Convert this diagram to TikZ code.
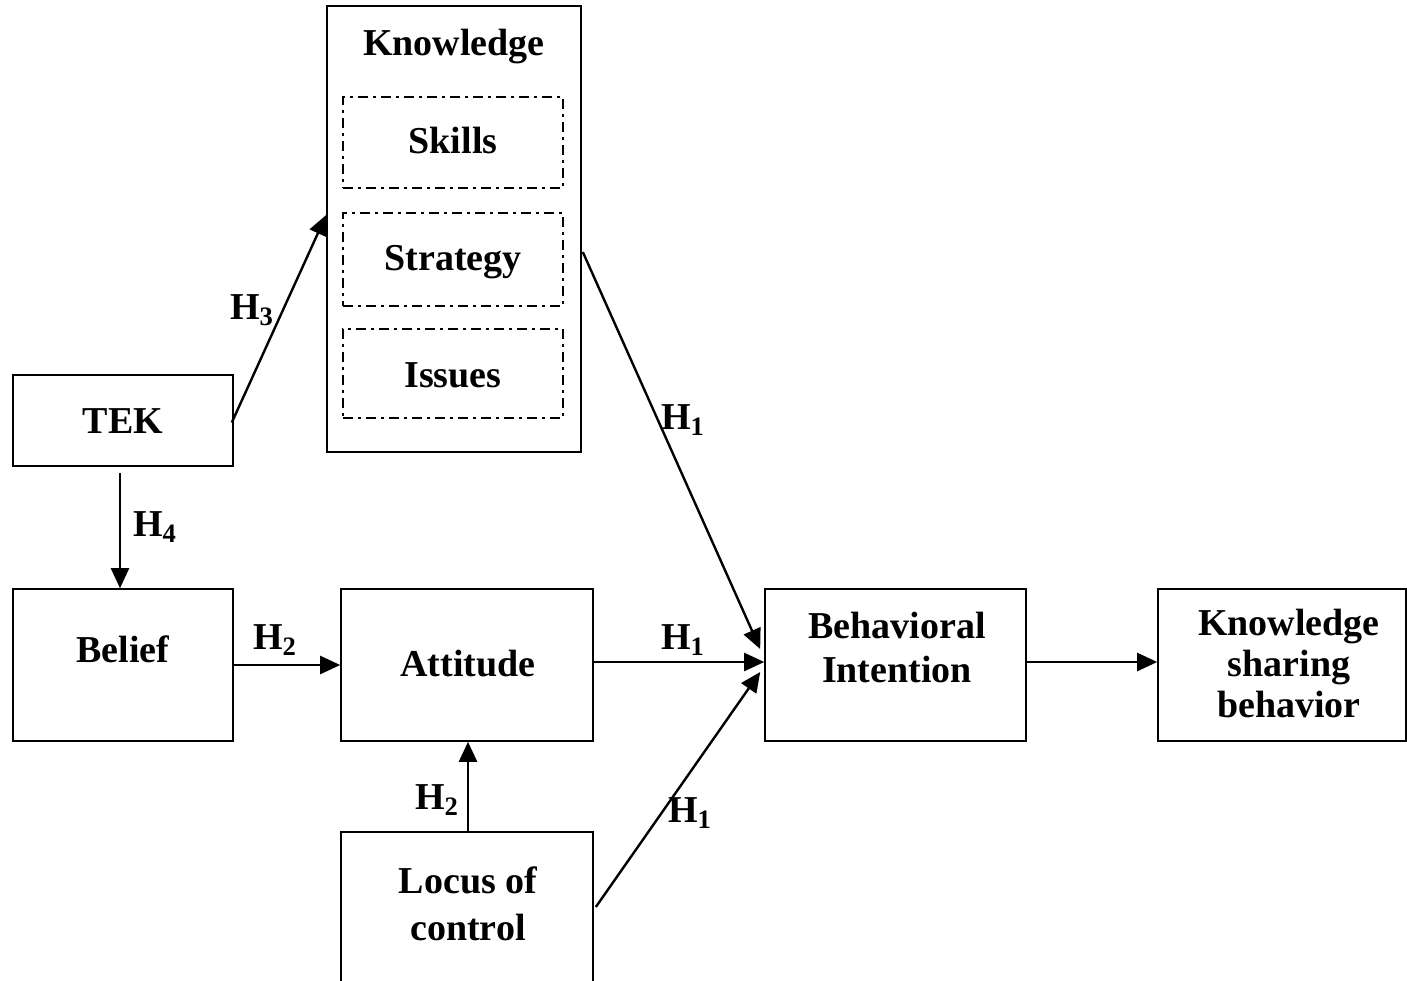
\documentclass[tikz,border=0pt]{standalone}
\usepackage{fontspec}
\setmainfont{Liberation Serif}
\usetikzlibrary{arrows.meta}
\begin{document}
\begin{tikzpicture}[x=0.5pt,y=-0.5pt,
  box/.style={draw,line width=0.8pt,inner sep=0pt,minimum width=#1},
  dbox/.style={draw,line width=0.75pt,inner sep=0pt,dash pattern=on 5pt off 2.5pt on 1.5pt off 2.5pt},
  txt/.style={inner sep=0pt,anchor=base,font=\fontsize{19}{22}\selectfont\bfseries,align=center},
  hl/.style={inner sep=0pt,font=\fontsize{19}{22}\selectfont\bfseries},
  arr/.style={line width=1.2pt,-{Triangle[length=10pt,width=9pt]}},
  ln/.style={line width=1.2pt}]
\useasboundingbox (0,0) rectangle (1407,980);
\clip (0,0) rectangle (1407,980);
% boxes
\node[box, minimum width=127pt, minimum height=223pt] (know) at (454,229) {};
\node[dbox, minimum width=110pt, minimum height=45.5pt] (skills) at (453,142.5) {};
\node[dbox, minimum width=110pt, minimum height=46.5pt] (strat) at (453,259.5) {};
\node[dbox, minimum width=110pt, minimum height=44.5pt] (issues) at (453,373.5) {};
\node[box, minimum width=110pt, minimum height=45.5pt] (tek) at (123,420.5) {};
\node[box, minimum width=110pt, minimum height=76pt] (belief) at (123,665) {};
\node[box, minimum width=126pt, minimum height=76pt] (att) at (467,665) {};
\node[box, minimum width=126pt, minimum height=88pt] (loc) at (467,920) {};
\node[box, minimum width=130.5pt, minimum height=76pt] (bi) at (895.5,665) {};
\node[box, minimum width=124pt, minimum height=76pt] (ksb) at (1282,665) {};
% texts
\node[txt] (tknow) at (454,55) {Knowledge};
\node[txt] (tskills) at (453,153) {Skills};
\node[txt] (tstrat) at (453,270) {Strategy};
\node[txt] (tissues) at (453,387) {Issues};
\node[txt] (ttek) at (123,433) {TEK};
\node[txt] (tbelief) at (123,662) {Belief};
\node[txt] (tatt) at (468,676) {Attitude};
\node[txt] (tbi) at (897,682) {Behavioral\\Intention};
\node[txt,font=\fontsize{19}{20.5}\selectfont\bfseries] (tksb) at (1289,717) {Knowledge\\sharing\\behavior};
\node[txt,font=\fontsize{19}{23.5}\selectfont\bfseries] (tloc) at (468,940) {Locus of\\control};
% connectors
\draw[arr] ([xshift=-1pt,yshift=-1pt]tek.east) -- ([yshift=7pt]know.west);
\draw[arr] ([xshift=-1.5pt,yshift=-3pt]tek.south) -- ([xshift=-1.5pt]belief.north);
\draw[arr] ([xshift=-1pt]belief.east) -- (att.west);
\draw[arr] ([yshift=1.5pt]att.east) -- ([yshift=1.5pt]bi.west);
\draw[arr] ([xshift=0.5pt,yshift=-11.5pt]know.east) -- ([xshift=-2pt,yshift=8pt]bi.west);
\draw[arr] ([xshift=1pt,yshift=6.5pt]loc.east) -- ([xshift=-2pt,yshift=-3.5pt]bi.west);
\draw[arr] ([xshift=0.5pt]loc.north) -- ([xshift=0.5pt]att.south);
\draw[arr] ([yshift=1.5pt]bi.east) -- ([yshift=1.5pt]ksb.west);
% labels
\node[hl] (h3) at (252,310) {H\textsubscript{3}};
\node[hl] (h4) at (155,527) {H\textsubscript{4}};
\node[hl] (h2a) at (275,640) {H\textsubscript{2}};
\node[hl] (h1a) at (683,420) {H\textsubscript{1}};
\node[hl] (h1b) at (683,640) {H\textsubscript{1}};
\node[hl] (h1c) at (690,813) {H\textsubscript{1}};
\node[hl] (h2b) at (437,800) {H\textsubscript{2}};
\end{tikzpicture}
\end{document}
